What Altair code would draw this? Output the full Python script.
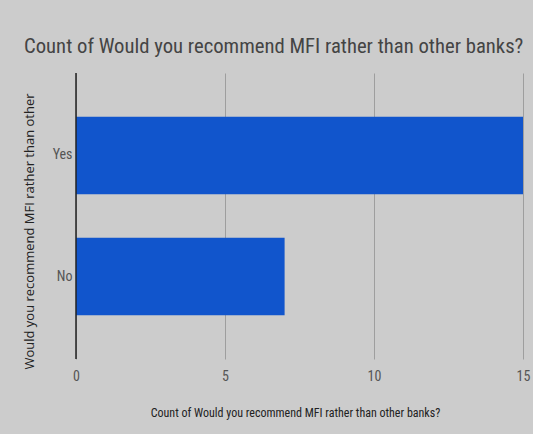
import altair as alt
import pandas as pd

categories = ["Yes", "No"]
counts = [15, 7]
x_ticks = [0, 5, 10, 15]

title_text = "Count of Would you recommend MFI rather than other banks?"
x_title = "Count of Would you recommend MFI rather than other banks?"
y_title = "Would you recommend MFI rather than other"

df = pd.DataFrame({"answer": categories, "count": counts})

COND = "Roboto Condensed, Liberation Sans Narrow, Arial Narrow, Roboto"

bars = alt.Chart(df).mark_bar(color="#1155cc").encode(
    x=alt.X(
        "count:Q",
        scale=alt.Scale(domain=[0, 15], nice=False),
        axis=alt.Axis(
            values=x_ticks,
            domain=False,
            ticks=False,
            grid=True,
            gridColor="#9e9e9e",
            gridWidth=1,
            labelFlush=False,
            labelFont=COND,
            labelFontSize=14,
            labelColor="#555555",
            labelPadding=10,
            title=x_title,
            titleFont=COND,
            titleFontSize=12,
            titleFontWeight="normal",
            titleColor="#222222",
            titleX=219,
            titleY=53,
            titleBaseline="middle",
            titleAlign="center",
        ),
    ),
    y=alt.Y(
        "answer:N",
        sort=categories,
        scale=alt.Scale(paddingInner=0.36, paddingOuter=0.36),
        axis=alt.Axis(
            domain=False,
            ticks=False,
            grid=False,
            labelFont=COND,
            labelFontSize=14,
            labelColor="#555555",
            labelPadding=4,
            title=y_title,
            titleFont="Open Sans, DejaVu Sans, sans-serif",
            titleFontSize=13,
            titleFontWeight=500,
            titleColor="#222222",
            titleAngle=270,
            titleX=-47,
            titleY=158,
            titleAlign="center",
            titleBaseline="middle",
        ),
    ),
)

zero = alt.Chart(pd.DataFrame({"v": [0]})).mark_rule(color="#222222", strokeWidth=1.5).encode(
    x="v:Q"
)

chart = (
    alt.layer(bars, zero)
    .properties(
        width=447,
        height=286,
        background="#cccccc",
        padding={"left": 76, "top": 73, "right": 10, "bottom": 75},
        autosize=alt.AutoSizeParams(type="none"),
        title=alt.TitleParams(
            text=title_text,
            anchor="start",
            frame="group",
            font=COND,
            fontSize=20.7,
            fontWeight="normal",
            color="#444444",
            dx=-52,
            offset=15,
        ),
    )
    .configure_view(stroke=None)
)

chart.save("out.html", embed_options={"renderer": "svg", "actions": False})
